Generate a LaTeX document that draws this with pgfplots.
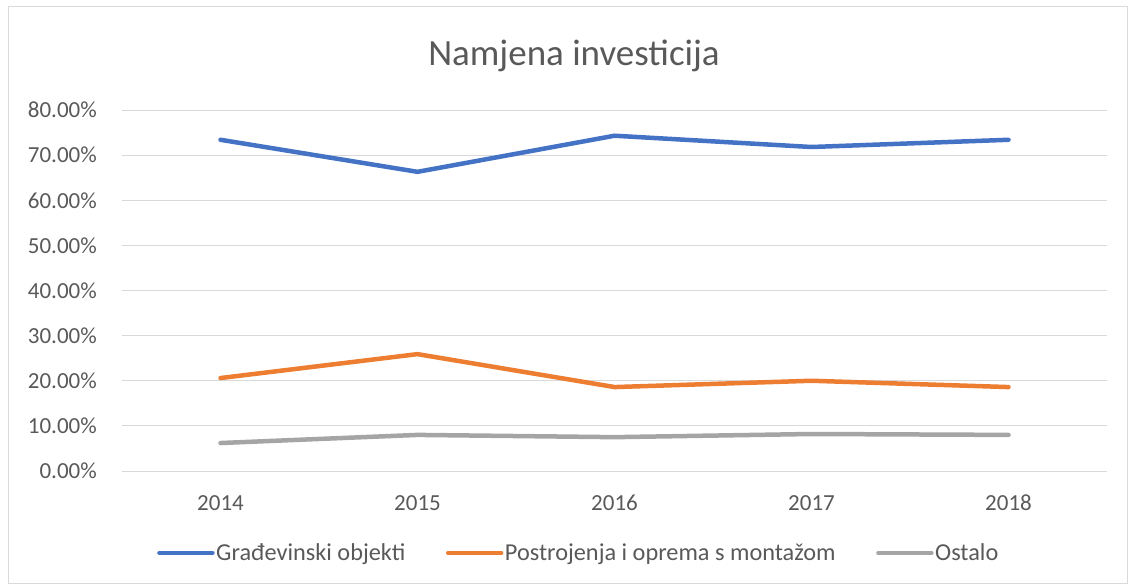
\documentclass[border=0pt]{standalone}
\usepackage{pgfplots}
\pgfplotsset{compat=1.18}
\usepackage{fontspec}
\setmainfont{Carlito}
\definecolor{cblue}{HTML}{4472C4}
\definecolor{corange}{HTML}{ED7D31}
\definecolor{cgray}{HTML}{A5A5A5}
\definecolor{ctext}{HTML}{595959}
\definecolor{cgrid}{HTML}{D9D9D9}
\begin{document}
\begin{tikzpicture}
\path[use as bounding box] (0pt,0pt) rectangle (1131pt,-586pt);
\draw[cgrid, line width=1pt] (8pt,-7pt) rectangle (1127pt,-583pt);
\node[text=ctext, font=\fontsize{37}{44}\selectfont] at (574pt,-56pt) {Namjena investicija};
\begin{axis}[
  at={(122pt,-471pt)}, anchor=south west,
  scale only axis, width=985pt, height=361pt,
  xmin=2013.5, xmax=2018.5, ymin=0, ymax=80,
  xtick={2014,2015,2016,2017,2018},
  xticklabels={2014,2015,2016,2017,2018},
  ytick={0,10,...,80},
  yticklabel={\pgfmathprintnumber[fixed,fixed zerofill,precision=2]{\tick}\%},
  /pgf/number format/assume math mode=true,
  axis line style={draw=none},
  major tick length=0pt,
  ymajorgrids, grid style={cgrid, line width=1pt},
  tick label style={text=ctext, font=\fontsize{23}{27}\selectfont},
  yticklabel style={anchor=east, inner sep=0pt, xshift=-25pt},
  xticklabel style={anchor=base, inner sep=0pt, yshift=-39pt},
  legend columns=3,
  legend style={draw=none, fill=none, at={(0.0325,-0.227)}, anchor=west,
    font=\fontsize{24.3}{28}\selectfont, text=ctext,
    nodes={inner xsep=1.5pt},
    /tikz/every even column/.append style={column sep=39pt}},
  legend image code/.code={\draw[#1] (0pt,0pt) -- (53pt,0pt);},
  every axis plot/.append style={line width=4.5pt, line cap=round, line join=round},
  clip=false,
]
\addplot[cblue] coordinates {(2014,73.4) (2015,66.3) (2016,74.3) (2017,71.8) (2018,73.4)};
\addlegendentry{Građevinski objekti}
\addplot[corange] coordinates {(2014,20.6) (2015,25.9) (2016,18.6) (2017,20.0) (2018,18.6)};
\addlegendentry{Postrojenja i oprema s montažom}
\addplot[cgray] coordinates {(2014,6.2) (2015,8.0) (2016,7.5) (2017,8.2) (2018,8.0)};
\addlegendentry{Ostalo}
\end{axis}
\end{tikzpicture}
\end{document}
